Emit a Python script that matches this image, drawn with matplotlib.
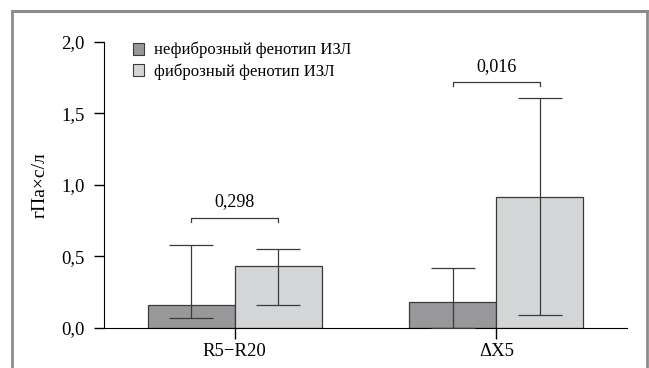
import numpy as np
import matplotlib.pyplot as plt
from matplotlib.patches import Patch
from matplotlib.lines import Line2D

plt.rcParams['font.family'] = ['Liberation Serif', 'DejaVu Serif']

categories = ['R5\u2212R20', '\u0394X5']
group_labels = ['нефиброзный фенотип ИЗЛ', 'фиброзный фенотип ИЗЛ']
nonfib_mean = [0.16, 0.18]
nonfib_low = [0.065, 0.0]
nonfib_high = [0.575, 0.415]
fib_mean = [0.43, 0.915]
fib_low = [0.16, 0.09]
fib_high = [0.547, 1.605]
p_values = ['0,298', '0,016']
bracket_y = [0.77, 1.72]

dark = '#98989a'
light = '#d4d5d7'
edge = '#3a3a3a'

fig = plt.figure(figsize=(6.49, 3.68), dpi=100)
ax = fig.add_axes([104 / 649, 1 - 327.5 / 368, 523 / 649, 285.5 / 368])

x = np.arange(len(categories))
w = 1 / 3
ax.bar(x - w / 2, nonfib_mean, w, color=dark, edgecolor=edge, linewidth=0.9, zorder=2)
ax.bar(x + w / 2, fib_mean, w, color=light, edgecolor=edge, linewidth=0.9, zorder=2)

nm, fm = np.array(nonfib_mean), np.array(fib_mean)
ax.errorbar(x - w / 2, nm, yerr=[nm - np.array(nonfib_low), np.array(nonfib_high) - nm],
            fmt='none', ecolor=edge, elinewidth=0.9, capsize=15.5, capthick=0.9, zorder=3)
ax.errorbar(x + w / 2, fm, yerr=[fm - np.array(fib_low), np.array(fib_high) - fm],
            fmt='none', ecolor=edge, elinewidth=0.9, capsize=15.5, capthick=0.9, zorder=3)

# p-value brackets
for xi, by, p in zip(x, bracket_y, p_values):
    ax.plot([xi - w / 2, xi - w / 2, xi + w / 2, xi + w / 2],
            [by - 0.028, by, by, by - 0.028], color=edge, lw=0.9)
    ax.text(xi, by + 0.05, p, ha='center', va='bottom', fontsize=13)

ax.set_xlim(-0.5, 1.5)
ax.set_ylim(0, 2.0)
ax.set_yticks([0, 0.5, 1.0, 1.5, 2.0])
ax.set_yticklabels(['0,0', '0,5', '1,0', '1,5', '2,0'])
ax.set_xticks(x)
ax.set_xticklabels(categories)
ax.tick_params(axis='y', direction='out', length=7, width=1, labelsize=13.5, pad=7)
ax.tick_params(axis='x', direction='out', length=8, width=1, labelsize=13.5, pad=3)
ax.spines['top'].set_visible(False)
ax.spines['right'].set_visible(False)
ax.set_ylabel('гПа×с/л', fontsize=14, labelpad=9)

handles = [Patch(facecolor=dark, edgecolor=edge, lw=0.8),
           Patch(facecolor=light, edgecolor=edge, lw=0.8)]
ax.legend(handles, group_labels, loc='upper left', bbox_to_anchor=(0.055, 1.0),
          frameon=False, fontsize=12, handlelength=0.7, handleheight=0.7,
          handletextpad=0.6, labelspacing=0.3, borderpad=0, borderaxespad=0)

# gray frame around the figure
fc = '#8c8c8c'
fig.add_artist(Line2D([12 / 649, 12 / 649], [0, 1 - 11 / 368], color=fc, lw=2, transform=fig.transFigure))
fig.add_artist(Line2D([12 / 649, 647 / 649], [1 - 11 / 368, 1 - 11 / 368], color=fc, lw=2.2, transform=fig.transFigure))
fig.add_artist(Line2D([647 / 649, 647 / 649], [0, 1 - 11 / 368], color=fc, lw=2, transform=fig.transFigure))

fig.savefig('out.png', dpi=100)
